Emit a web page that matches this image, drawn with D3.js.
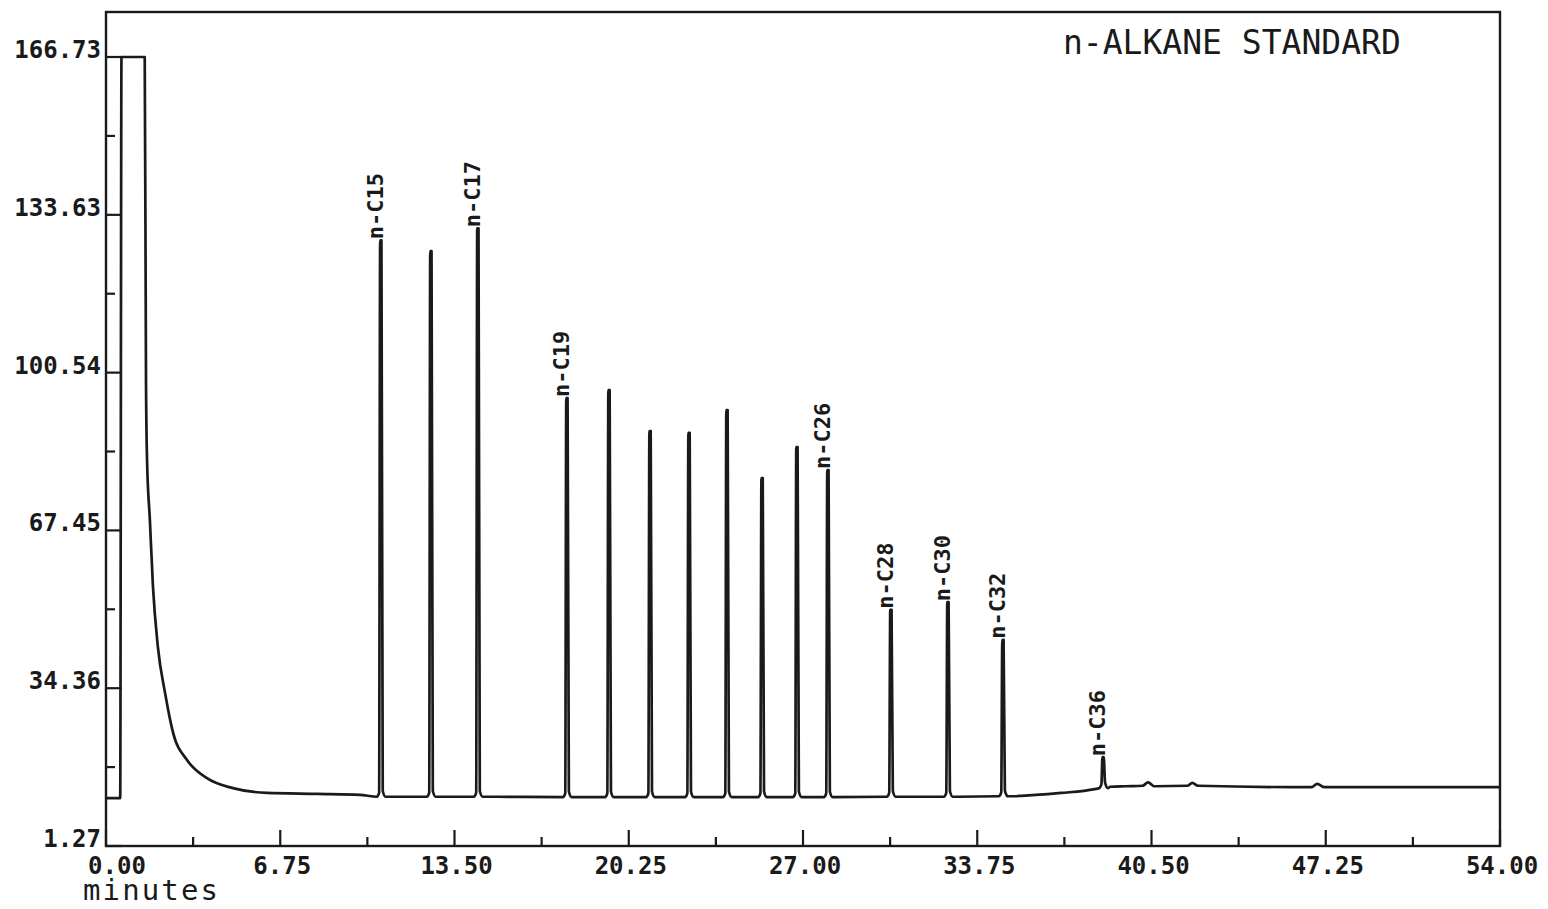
<!DOCTYPE html>
<html>
<head>
<meta charset="utf-8">
<script src="https://cdn.jsdelivr.net/npm/d3@7"></script>
<style>
  body { margin: 0; background: #fff; }
  text { font-family: 'DejaVu Sans Mono', monospace; fill: #1a1a1a; }
</style>
</head>
<body>
<div id="chart"></div>
<script>
// baseline of the trace (solvent front + drift), minutes / signal
var baseTimes  = [0, 0.55, 0.6, 1.5, 1.55, 1.59, 1.70, 1.82, 2.01, 2.29, 2.60, 3.14, 3.91, 4.92, 6.24, 8.18, 9.84, 15, 25, 33, 34.9, 37.0, 38.3, 38.9, 39.5, 40.15, 40.37, 40.6, 41.9, 42.08, 42.3, 46.7, 46.92, 47.2, 54]
var baseValues = [11.3, 11.3, 166.73, 166.73, 98.3, 82.2, 69.6, 55.6, 43.0, 33.3, 25.0, 19.3, 15.5, 13.4, 12.4, 12.2, 12.0, 11.6, 11.5, 11.6, 11.8, 12.4, 13.2, 13.7, 13.8, 13.9, 14.6, 13.8, 13.9, 14.5, 13.9, 13.6, 14.3, 13.6, 13.6]

// peaks
var peakTimes   = [10.65, 12.59, 14.41, 17.86, 19.49, 21.08, 22.59, 24.06, 25.42, 26.77, 27.97, 30.41, 32.62, 34.75, 38.63]
var peakHeights = [128.3, 126.0, 130.8, 95.2, 96.9, 88.3, 87.9, 92.7, 78.4, 84.9, 80.1, 50.8, 52.4, 44.5, 19.9]
var peakFoot    = [11.6, 11.6, 11.6, 11.5, 11.5, 11.5, 11.5, 11.5, 11.5, 11.5, 11.5, 11.6, 11.6, 11.7, 13.4]
var peakNames   = ['n-C15', '', 'n-C17', 'n-C19', '', '', '', '', '', '', 'n-C26', 'n-C28', 'n-C30', 'n-C32', 'n-C36']

// axes
var xTicks      = [0, 6.75, 13.5, 20.25, 27, 33.75, 40.5, 47.25, 54]
var xTickLabels = ['0.00', '6.75', '13.50', '20.25', '27.00', '33.75', '40.50', '47.25', '54.00']
var xMinor      = [3.375, 10.125, 16.875, 23.625, 30.375, 37.125, 43.875, 50.625]
var yTicks      = [1.27, 34.36, 67.45, 100.54, 133.63, 166.73]
var yTickLabels = ['1.27', '34.36', '67.45', '100.54', '133.63', '166.73']
var yMinor      = [17.82, 50.91, 84.0, 117.09, 150.18]

var W = 1548, H = 909
var L = 106, R = 1500, T = 12, B = 846
var ink = '#1a1a1a'

var svg = d3.select('#chart').append('svg').attr('width', W).attr('height', H)

var x = d3.scaleLinear().domain([0, 54]).range([L, R])
var y = d3.scaleLinear().domain([1.27, 166.73]).range([B, 57])

// trace = baseline points + a narrow spike for every peak
var pts = baseTimes.map(function(t, i){ return [t, baseValues[i]] })
peakTimes.forEach(function(t, i){
  var h = peakHeights[i], f = peakFoot[i]
  pts.push([t - 0.16, f], [t - 0.07, f + 0.8], [t - 0.03, h], [t + 0.02, h], [t + 0.07, f + 1.2], [t + 0.18, f])
})
pts.sort(function(a, b){ return a[0] - b[0] })

var line = d3.line().curve(d3.curveMonotoneX)
  .x(function(d){ return x(d[0]) }).y(function(d){ return y(d[1]) })

svg.append('path').attr('d', line(pts))
  .attr('fill', 'none').attr('stroke', ink).attr('stroke-width', 2.7).attr('stroke-linejoin', 'round')

// frame
svg.append('rect').attr('x', L).attr('y', T).attr('width', R - L).attr('height', B - T)
  .attr('fill', 'none').attr('stroke', ink).attr('stroke-width', 2.4)

// x ticks (pointing inward)
svg.selectAll('.xt').data(xTicks).enter().append('line')
  .attr('x1', x).attr('x2', x).attr('y1', B).attr('y2', B - 16)
  .attr('stroke', ink).attr('stroke-width', 2.2)
svg.selectAll('.xm').data(xMinor).enter().append('line')
  .attr('x1', x).attr('x2', x).attr('y1', B).attr('y2', B - 9)
  .attr('stroke', ink).attr('stroke-width', 2.2)
svg.selectAll('.xl').data(xTicks).enter().append('text')
  .attr('x', function(d, i){ return x(d) + (i == 0 ? 11 : 2) })
  .attr('y', 874).attr('text-anchor', 'middle')
  .attr('font-size', 24).attr('font-weight', 'bold')
  .text(function(d, i){ return xTickLabels[i] })

svg.append('text').attr('x', 83).attr('y', 900).attr('font-size', 29)
  .attr('textLength', 135).attr('lengthAdjust', 'spacing').text('minutes')

// y ticks
svg.selectAll('.yt').data(yTicks).enter().append('line')
  .attr('x1', L).attr('x2', L + 16).attr('y1', y).attr('y2', y)
  .attr('stroke', ink).attr('stroke-width', 2.2)
svg.selectAll('.ym').data(yMinor).enter().append('line')
  .attr('x1', L).attr('x2', L + 9).attr('y1', y).attr('y2', y)
  .attr('stroke', ink).attr('stroke-width', 2.2)
svg.selectAll('.yl').data(yTicks).enter().append('text')
  .attr('x', 101).attr('y', function(d){ return y(d) + 1 }).attr('text-anchor', 'end')
  .attr('font-size', 24).attr('font-weight', 'bold')
  .text(function(d, i){ return yTickLabels[i] })

// peak labels, written upward from the peak top
svg.selectAll('.pl').data(peakTimes.filter(function(t, i){ return peakNames[i] })).enter().append('text')
  .attr('transform', function(t){
    var i = peakTimes.indexOf(t)
    return 'translate(' + (x(t) + 2) + ',' + (y(peakHeights[i]) - 1) + ') rotate(-90)'
  })
  .attr('font-size', 22).attr('font-weight', 'bold')
  .text(function(t){ return peakNames[peakTimes.indexOf(t)] })

svg.append('text').attr('x', 1063).attr('y', 54).attr('font-size', 33).text('n-ALKANE STANDARD')
</script>
</body>
</html>
